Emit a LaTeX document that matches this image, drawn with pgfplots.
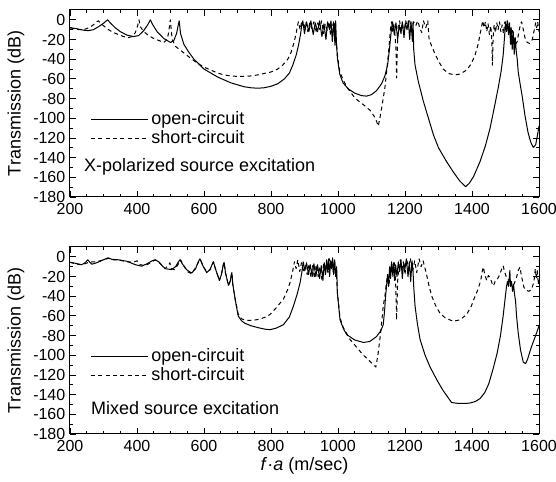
\documentclass[border=0pt]{standalone}
\usepackage{fontspec}
\setmainfont{Liberation Sans}
\usepackage{pgfplots}
\pgfplotsset{compat=1.18}

\pgfplotsset{
  myax/.style={
    width=351.75pt, height=140.25pt, scale only axis,
    xmin=200, xmax=1600, ymin=-180, ymax=10,
    xtick={200,400,...,1600}, ytick={-180,-160,...,0},
    minor x tick num=3, minor y tick num=1,
    tick align=inside, major tick length=4.5pt, minor tick length=2.5pt,
    tick style={black, line width=0.6pt},
    axis line style={line width=0.75pt},
    /pgf/number format/assume math mode=true,
    /pgf/number format/1000 sep={},
    ticklabel style={font=\fontsize{12}{14}\selectfont},
    xticklabel style={yshift=-1.5pt},
    label style={font=\fontsize{13.5}{15}\selectfont},
    ylabel={Transmission (dB)},
    ylabel style={at={(axis description cs:-0.115,0.5)}, anchor=center},
    legend style={draw=none, fill=none, at={(axis description cs:0.04,0.48)}, anchor=north west,
      font=\fontsize{13.5}{15}\selectfont, row sep=-1pt, inner sep=1pt},
    legend cell align=left,
    legend image code/.code={\draw[##1] (0pt,0pt) -- (43pt,0pt);},
    every axis plot/.append style={black, line width=0.75pt, line join=round},
  },
  openc/.style={solid},
  shortc/.style={dash pattern=on 3pt off 2.5pt},
}

\begin{document}
\begin{tikzpicture}
\begin{axis}[myax, name=top]
\addplot[openc] coordinates {
(200,-8) (220,-9) (240,-10.5) (255,-11) (270,-10) (285,-7) (300,-3.5) (312,0) (320,-3) (335,-8) (350,-12) (370,-15.5) (390,-17) (405,-16) (420,-11) (432,-5) (440,0) (447,-5) (460,-12) (480,-19) (500,-23) (510,-21) (518,-14) (524,-4) (526,-1) (530,-14) (540,-25) (555,-33) (570,-40) (585,-45) (600,-50) (620,-54) (640,-58) (660,-61) (680,-64) (700,-66) (720,-68) (740,-69) (760,-69.5) (780,-69) (800,-67.5) (820,-65) (840,-60) (855,-54) (865,-46) (875,-36) (882,-26) (888,-15) (892,-5)
(895,-1) (900,-14) (906,-2) (913,-12) (919,-1) (926,-15) (932,-3) (939,-12) (945,-1) (952,-17) (958,-4) (964,-20) (969,-2) (975,-10) (979,-1) (983,-22) (987,-2) (991,-26) (993,-1) (995,-20) (998,-38) (1005,-55) (1015,-64) (1030,-70) (1050,-74.5) (1070,-77) (1085,-77.5) (1100,-76) (1115,-72) (1130,-65) (1140,-57) (1148,-46) (1153,-32) (1157,-18) (1160,-8)
(1163,-2) (1168,-15) (1173,-3) (1178,-20) (1183,-5) (1188,-14) (1192,-2) (1197,-18) (1201,-3) (1206,-10) (1210,-1) (1214,-20) (1218,-2) (1222,-22) (1224,-2) (1226,-30) (1230,-46) (1240,-63) (1255,-83) (1270,-100) (1285,-117) (1300,-130) (1324,-144) (1345,-155) (1364,-164) (1381,-169.5) (1392,-166) (1405,-159) (1424,-144) (1440,-128) (1454,-110) (1466,-90) (1478,-69.5) (1487,-52) (1493,-36) (1497,-18) (1500,-2)
(1503,-12) (1506,-1) (1509,-15) (1512,-3) (1515,-25) (1517,-8) (1520,-30) (1523,-12) (1526,-35) (1529,-18) (1532,-32) (1535,-40) (1538,-53) (1545,-68) (1550,-78) (1558,-97) (1567,-114) (1575,-124) (1583,-129.5) (1590,-127) (1595,-118) (1600,-108)
};
\addlegendentry{open-circuit}
\addplot[shortc] coordinates {
(200,-8) (215,-9.5) (230,-10) (245,-9.5) (260,-7.5) (272,-4.5) (280,-2) (285,-1) (290,-3) (300,-6) (315,-10) (330,-13) (345,-15) (360,-17) (375,-18) (385,-17) (395,-13) (402,-6) (406,0) (410,-7) (420,-12) (435,-16) (450,-19) (465,-21) (480,-23) (490,-20) (495,-12) (498,-3) (499.5,0) (501,-6) (505,-20) (515,-27) (530,-31) (545,-35) (560,-39) (580,-44) (600,-48) (620,-51) (640,-54) (660,-56) (680,-57) (700,-57.5) (720,-57.5) (740,-57) (760,-56) (780,-54.5) (800,-53) (820,-50) (835,-46) (850,-40) (860,-33) (868,-24) (875,-14) (879,-6)
(882,-2) (887,-10) (892,-1) (898,-9) (904,-2) (910,-12) (916,-3) (922,-9) (928,-2) (934,-13) (940,-3) (946,-10) (951,-1) (957,-14) (962,-4) (968,-11) (973,-2) (978,-16) (982,-4) (986,-12) (989,-2) (992,-20) (995,-24) (999,-38) (1005,-52) (1015,-61) (1030,-70) (1045,-77) (1056,-81) (1075,-86) (1096,-92) (1108,-98) (1115,-103) (1120,-108) (1125,-100) (1132,-86) (1140,-69) (1146,-50) (1150,-36) (1154,-20) (1157,-8) (1160,-2)
(1163,-12) (1166,-3) (1170,-15) (1173,-30) (1175,-59) (1177,-30) (1180,-5) (1184,-1) (1188,-12) (1192,-3) (1197,-14) (1202,-1) (1208,-8) (1214,-1) (1220,-10) (1226,-2) (1232,-6) (1238,-1) (1244,-8) (1250,-13) (1255,-1) (1262,-8) (1268,-1) (1272,-20) (1280,-27) (1290,-35) (1300,-42) (1314,-50) (1330,-54.5) (1349,-56) (1365,-55) (1384,-51) (1397,-45) (1409,-36) (1418,-25) (1424,-15) (1429,-6) (1432,-1)
(1436,-8) (1440,-2) (1444,-12) (1448,-4) (1452,-15) (1456,-6) (1459,-20) (1461,-46) (1463,-18) (1466,-5) (1470,-13) (1474,-3) (1478,-10) (1482,-2) (1486,-12) (1490,-5) (1494,-14) (1498,-2) (1502,-8) (1505,-1) (1510,-10) (1515,-16) (1520,-10) (1525,-18) (1530,-25) (1535,-22) (1540,-12) (1545,-4) (1548,-2) (1552,-8) (1558,-18) (1565,-23) (1572,-24) (1580,-20) (1586,-10) (1590,-3) (1593,-8) (1596,-2) (1600,-12)
};
\addlegendentry{short-circuit}
\node[anchor=west, font=\fontsize{13.5}{15}\selectfont] at (axis description cs:0.02,0.16) {X-polarized source excitation};
\coordinate (tl) at (axis description cs:0,1);
\end{axis}

\begin{axis}[myax, name=bot, at={(top.south west)}, anchor=north west, yshift=-37.5pt,
  xlabel={\textit{f}·\textit{a} (m/sec)},
  xlabel style={at={(axis description cs:0.5,-0.172)}, anchor=center}]
\addplot[openc] coordinates {
(200,-5.5) (215,-6.5) (235,-8) (245,-6) (253,-3) (258,-5) (265,-7.5) (280,-6) (300,-3) (314,-1) (325,-2.5) (344,-3) (370,-4.5) (395,-8) (414,-9.5) (430,-7) (445,-4) (454,-3) (465,-5) (475,-9) (484,-12) (503,-13) (515,-10) (524,-5) (528,-3) (535,-7) (548,-13) (563,-16.5) (575,-12) (583,-5) (588,-2) (595,-8) (608,-16) (618,-13) (624,-8) (628,-5) (634,-12) (646,-24) (652,-18) (657,-9) (660,-5.5) (664,-16) (673,-29) (678,-25) (683,-16) (686,-28) (693,-43) (702,-60) (712,-65) (722,-67.5) (740,-70) (762,-72) (782,-73.5) (797,-74) (815,-72.5) (837,-69) (855,-61) (867,-50) (878,-38) (887,-26) (892,-16)
(896,-5) (901,-14) (906,-6) (912,-18) (917,-8) (923,-20) (928,-7) (934,-20) (939,-8) (945,-22) (950,-9) (955,-24) (959,-6) (963,-18) (966,-3) (969,-15) (972,-2) (975,-20) (978,-4) (981,-12) (984,-1) (987,-18) (990,-3) (993,-20) (996,-10) (998,-36) (1006,-64) (1016,-73) (1026,-79) (1050,-84.5) (1076,-87) (1095,-86) (1115,-81) (1128,-75) (1135,-69) (1139,-55) (1142,-40) (1145,-29.5)
(1148,-18) (1151,-30) (1154,-10) (1157,-22) (1160,-5) (1163,-18) (1166,-6) (1169,-24) (1172,-8) (1176,-20) (1180,-5) (1184,-15) (1188,-3) (1192,-22) (1196,-6) (1200,-12) (1204,-2) (1209,-20) (1213,-5) (1217,-25) (1221,-4) (1224,-15) (1226,-30) (1230,-50) (1237,-68) (1245,-84) (1260,-100) (1275,-112) (1295,-125) (1314,-136) (1339,-148) (1360,-149) (1380,-149) (1394,-148.5) (1410,-147) (1424,-144) (1438,-138) (1450,-129) (1462,-115) (1475,-98) (1485,-80) (1493,-60) (1499,-42) (1503,-30)
(1506,-25) (1509,-30) (1511,-22) (1513,-14) (1515,-30) (1518,-25) (1521,-35) (1524,-28) (1527,-38) (1530,-45) (1533,-60) (1538,-77.5) (1545,-95) (1553,-107) (1560,-108.5) (1566,-104) (1573,-96) (1580,-89) (1590,-80) (1600,-70)
};
\addlegendentry{open-circuit}
\addplot[shortc] coordinates {
(200,-5.5) (215,-7) (230,-8) (245,-7) (260,-5) (275,-5) (290,-4) (305,-2.5) (315,-1.5) (330,-3) (350,-3.5) (370,-5) (390,-5.5) (400,-4) (410,-8) (425,-9) (445,-5) (455,-3) (470,-7) (484,-12) (495,-8) (498,-6) (502,-12) (512,-13) (524,-7) (530,-3) (538,-8) (550,-15) (563,-17) (575,-11) (584,-5) (590,-3) (598,-10) (608,-15) (618,-13) (624,-8) (628,-5) (634,-12) (646,-24) (652,-18) (657,-9) (660,-5.5) (664,-16) (673,-29) (678,-25) (683,-16) (686,-28) (693,-43) (702,-58) (712,-63) (725,-64.5) (745,-64.5) (765,-63.5) (785,-61) (797,-58.6) (815,-52) (837,-43) (850,-33) (857,-26) (865,-14) (870,-5)
(875,-12) (880,-3) (886,-15) (891,-6) (897,-16) (902,-8) (908,-18) (913,-7) (919,-20) (924,-9) (930,-22) (935,-8) (941,-20) (946,-10) (952,-23) (957,-7) (962,-18) (966,-5) (970,-16) (974,-2) (978,-12) (982,-3) (986,-16) (990,-5) (993,-20) (995,-12) (998,-36) (1006,-62) (1016,-72) (1026,-78) (1036,-84) (1056,-92) (1076,-100) (1095,-106) (1107,-110) (1113,-112) (1119,-100) (1125,-84) (1130,-68) (1135,-50) (1140,-40) (1144,-28) (1148,-18) (1152,-30) (1156,-14) (1160,-8)
(1164,-20) (1168,-6) (1172,-25) (1175,-64) (1178,-25) (1182,-8) (1186,-3) (1190,-15) (1195,-5) (1200,-18) (1205,-3) (1211,-12) (1217,-2) (1223,-14) (1229,-4) (1235,-16) (1242,-2) (1248,-10) (1254,-4) (1260,-12) (1265,-19) (1272,-30) (1280,-40) (1292,-50) (1304,-57) (1320,-62) (1344,-65.5) (1364,-64) (1384,-58.6) (1398,-50) (1409,-40) (1418,-33) (1426,-24) (1431,-14)
(1434,-10.5) (1438,-18) (1444,-24) (1449,-19) (1454,-21) (1459,-26) (1464,-29.5) (1469,-25) (1474,-24) (1480,-20) (1486,-15) (1490,-11) (1493,-9) (1497,-15) (1503,-21) (1510,-24) (1518,-27) (1525,-28) (1532,-22) (1538,-14) (1543,-10.5) (1548,-20) (1555,-31) (1562,-34) (1570,-35) (1578,-33) (1585,-25) (1589,-12) (1592,-22) (1595,-14) (1598,-28) (1600,-20)
};
\addlegendentry{short-circuit}
\node[anchor=west, font=\fontsize{13.5}{15}\selectfont] at (axis description cs:0.035,0.14) {Mixed source excitation};
\coordinate (br) at (axis description cs:1,0);
\end{axis}
\pgfresetboundingbox
\path[use as bounding box] ([shift={(-52.5pt,7.5pt)}]tl) rectangle ([shift={(12.75pt,-36pt)}]br);
\end{tikzpicture}
\end{document}
